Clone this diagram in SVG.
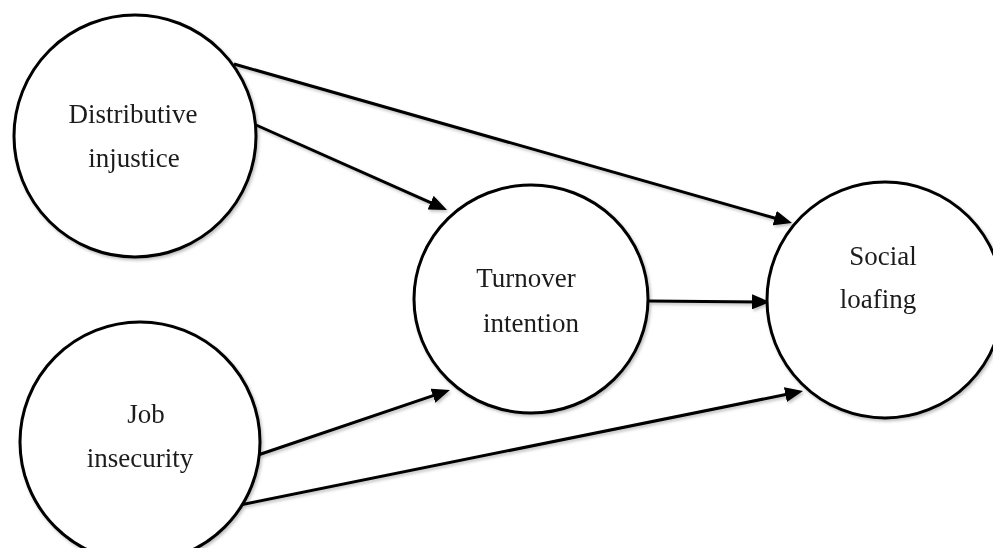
<svg xmlns="http://www.w3.org/2000/svg" width="993" height="548" viewBox="0 0 993 548">
  <defs>
    <filter id="sh" x="-10%" y="-10%" width="120%" height="120%">
      <feDropShadow dx="1.5" dy="2" stdDeviation="1.5" flood-color="#000" flood-opacity="0.25"/>
    </filter>
    <marker id="arr" viewBox="0 0 18 15" refX="8" refY="7.5" markerWidth="18" markerHeight="15" markerUnits="userSpaceOnUse" orient="auto">
      <path d="M0,0 L18,7.5 L0,15 z" fill="#000"/>
    </marker>
    <style>
      .node circle, .node ellipse { fill: #fff; stroke: #000; stroke-width: 3; }
      .lbl { font-family: "Liberation Serif", "Times New Roman", serif; font-size: 27px; fill: #1a1a1a; text-anchor: middle; }
      .edge { stroke: #000; stroke-width: 3; fill: none; marker-end: url(#arr); }
    </style>
  </defs>
  <rect width="993" height="548" fill="#fff"/>
  <g filter="url(#sh)">
    <g id="connectors">
      <line class="edge" x1="234" y1="64" x2="782.4" y2="220.3"/>
      <line class="edge" x1="256" y1="125" x2="437.9" y2="205.9"/>
      <line class="edge" x1="649" y1="301" x2="760" y2="301.9"/>
      <line class="edge" x1="258" y1="455" x2="440.5" y2="393.2"/>
      <line class="edge" x1="235" y1="506" x2="793.2" y2="393"/>
    </g>
    <g id="distributive" class="node">
      <circle cx="135" cy="136" r="121"/>
      <text class="lbl" x="133" y="123">Distributive</text>
      <text class="lbl" x="134" y="167">injustice</text>
    </g>
    <g id="job" class="node">
      <circle cx="140" cy="442" r="120"/>
      <text class="lbl" x="146" y="423">Job</text>
      <text class="lbl" x="140" y="467">insecurity</text>
    </g>
    <g id="turnover" class="node">
      <ellipse cx="531" cy="299" rx="117" ry="114"/>
      <text class="lbl" x="526" y="287">Turnover</text>
      <text class="lbl" x="531" y="332">intention</text>
    </g>
    <g id="social" class="node">
      <circle cx="885" cy="300" r="118"/>
      <text class="lbl" x="883" y="265">Social</text>
      <text class="lbl" x="878" y="308">loafing</text>
    </g>
  </g>
</svg>
